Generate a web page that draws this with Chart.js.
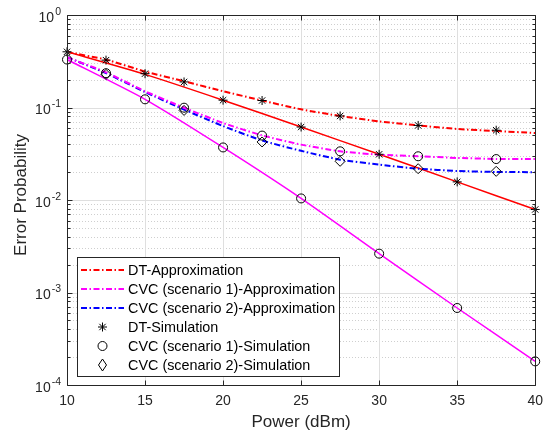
<!DOCTYPE html>
<html>
<head>
<meta charset="utf-8">
<script src="https://cdn.jsdelivr.net/npm/chart.js@4"></script>
<style>
  body{margin:0;background:#fff;}
  #c{display:block;}
</style>
</head>
<body>
<canvas id="c" width="551" height="434"></canvas>
<script>
// power axis (dBm)
const powerAll=[10,12.5,15,17.5,20,22.5,25,27.5,30,32.5,35,37.5,40];
const powerFive=[10,15,20,25,30,35,40];
const powerDiamond=[12.5,17.5,22.5,27.5,32.5,37.5];

// approximation curves (dash-dot)
const dtApprox=[0.398,0.329,0.245,0.192,0.150,0.119,0.0955,0.081,0.0708,0.064,0.0586,0.0557,0.053];
const cvc1Approx=[0.35,0.24,0.15,0.0995,0.068,0.050,0.0397,0.0336,0.0309,0.0297,0.0285,0.0278,0.0277];
const cvc2Approx=[0.35,0.235,0.147,0.095,0.063,0.044,0.034,0.0273,0.0241,0.0218,0.0206,0.0201,0.0200];

// solid curves (no legend entry)
const dtSolid=[0.40,0.228,0.12,0.0615,0.0312,0.0157,0.0079];
const cvc1Solid=[0.33,0.1226,0.037,0.0104,0.00263,0.00068,0.00018];

// simulation markers
const dtSim=[0.40,0.325,0.232,0.189,0.12,0.119,0.0615,0.081,0.0312,0.064,0.0157,0.0568,0.0079];
const cvc1Sim=[0.33,0.235,0.1226,0.0995,0.037,0.0497,0.0104,0.0336,0.00263,0.0297,0.00068,0.0277,0.00018];
const cvc2Sim=[0.228,0.093,0.0424,0.0262,0.0218,0.0204];

const yTickExps=[0,-1,-2,-3,-4];
const xTicks=[10,15,20,25,30,35,40];
const legendLabels=['DT-Approximation','CVC (scenario 1)-Approximation','CVC (scenario 2)-Approximation','DT-Simulation','CVC (scenario 1)-Simulation','CVC (scenario 2)-Simulation'];

const axisColor='#262626';
const font='"Liberation Sans", Arial, Helvetica, sans-serif';
const dashDot=[6,2.5,1.5,2.5];

const pts=(xs,ys)=>xs.map((x,i)=>({x:x,y:ys[i]}));

const lineDs=(data,color,dash,width,order,legend)=>({
    data:data, borderColor:color, backgroundColor:color, borderWidth:width,
    borderDash:dash, pointRadius:0, fill:false, tension:0.2, order:order, legend:legend
});
const markDs=(data,style,radius,legend)=>({
    data:data, showLine:false, borderColor:'#000', backgroundColor:'rgba(0,0,0,0)',
    pointStyle:style, pointRadius:radius, pointBorderWidth:1, pointBorderColor:'#000',
    pointBackgroundColor:'rgba(0,0,0,0)', order:0, clip:false, legend:legend
});

const datasets=[
    lineDs(pts(powerAll,dtApprox),'#ff0000',dashDot,2,1,legendLabels[0]),
    lineDs(pts(powerAll,cvc1Approx),'#ff00ff',dashDot,2,1,legendLabels[1]),
    lineDs(pts(powerAll,cvc2Approx),'#0000ff',dashDot,2,1,legendLabels[2]),
    markDs(pts(powerAll,dtSim),'star',4.5,legendLabels[3]),
    markDs(pts(powerAll,cvc1Sim),'circle',4.5,legendLabels[4]),
    markDs(pts(powerDiamond,cvc2Sim),'rectRot',5,legendLabels[5]),
    lineDs(pts(powerFive,dtSolid),'#ff0000',[],1.5,2,null),
    lineDs(pts(powerFive,cvc1Solid),'#ff00ff',[],1.5,2,null)
];

const drawMarker=(ctx,style,x,y,r)=>{
    ctx.beginPath();
    if(style==='circle'){
        ctx.arc(x,y,r,0,Math.PI*2);
    }else if(style==='rectRot'){
        ctx.moveTo(x,y-r*1.2);ctx.lineTo(x+r*0.8,y);ctx.lineTo(x,y+r*1.2);ctx.lineTo(x-r*0.8,y);ctx.closePath();
    }else{
        for(let k=0;k<4;k++){
            const a=k*Math.PI/4;
            ctx.moveTo(x-Math.cos(a)*r,y-Math.sin(a)*r);
            ctx.lineTo(x+Math.cos(a)*r,y+Math.sin(a)*r);
        }
    }
    ctx.stroke();
};

// grid lines, box, inward ticks, y labels and legend (MATLAB look)
const frame={
    id:'frame',
    beforeDatasetsDraw(chart){
        const ctx=chart.ctx, a=chart.chartArea, xs=chart.scales.x, ys=chart.scales.y;
        ctx.save();
        ctx.lineWidth=1;
        // minor y grid
        ctx.strokeStyle='#cfcfcf';
        ctx.setLineDash([1,2]);
        for(let e=-4;e<0;e++){
            for(let m=2;m<=9;m++){
                const y=Math.round(ys.getPixelForValue(m*Math.pow(10,e)))+0.5;
                ctx.beginPath();ctx.moveTo(a.left,y);ctx.lineTo(a.right,y);ctx.stroke();
            }
        }
        ctx.setLineDash([]);
        ctx.strokeStyle='#dfdfdf';
        yTickExps.forEach(e=>{
            const y=Math.round(ys.getPixelForValue(Math.pow(10,e)))+0.5;
            ctx.beginPath();ctx.moveTo(a.left,y);ctx.lineTo(a.right,y);ctx.stroke();
        });
        xTicks.forEach(v=>{
            const x=Math.round(xs.getPixelForValue(v))+0.5;
            ctx.beginPath();ctx.moveTo(x,a.top);ctx.lineTo(x,a.bottom);ctx.stroke();
        });
        ctx.restore();
    },
    afterDatasetsDraw(chart){
        const ctx=chart.ctx, a=chart.chartArea, xs=chart.scales.x, ys=chart.scales.y;
        ctx.save();
        ctx.strokeStyle=axisColor;
        ctx.lineWidth=1;
        const L=Math.round(a.left)+0.5, R=Math.round(a.right)+0.5, T=Math.round(a.top)+0.5, B=Math.round(a.bottom)+0.5;
        ctx.beginPath();ctx.rect(L,T,R-L,B-T);ctx.stroke();
        ctx.beginPath();
        xTicks.forEach(v=>{
            const x=Math.round(xs.getPixelForValue(v))+0.5;
            ctx.moveTo(x,B);ctx.lineTo(x,B-5);
            ctx.moveTo(x,T);ctx.lineTo(x,T+5);
        });
        yTickExps.forEach(e=>{
            const y=Math.round(ys.getPixelForValue(Math.pow(10,e)))+0.5;
            ctx.moveTo(L,y);ctx.lineTo(L+5,y);
            ctx.moveTo(R,y);ctx.lineTo(R-5,y);
        });
        for(let e=-4;e<0;e++){
            for(let m=2;m<=9;m++){
                const y=Math.round(ys.getPixelForValue(m*Math.pow(10,e)))+0.5;
                ctx.moveTo(L,y);ctx.lineTo(L+3,y);
                ctx.moveTo(R,y);ctx.lineTo(R-3,y);
            }
        }
        ctx.stroke();
        // y labels 10^k
        ctx.fillStyle=axisColor;
        ctx.textBaseline='middle';
        yTickExps.forEach(e=>{
            const y=ys.getPixelForValue(Math.pow(10,e));
            const exp=String(e);
            ctx.font='10.5px '+font;
            const ew=ctx.measureText(exp).width;
            ctx.textAlign='left';
            ctx.fillText(exp,61-ew,y-3);
            ctx.font='14px '+font;
            ctx.textAlign='right';
            ctx.fillText('10',61-ew-1,y+3);
        });
        // y title
        ctx.save();
        ctx.translate(21,195);
        ctx.rotate(-Math.PI/2);
        ctx.textAlign='center';
        ctx.font='17px '+font;
        ctx.fillText('Error Probability',0,0);
        ctx.restore();
        ctx.restore();
    },
    afterDraw(chart){
        const ctx=chart.ctx;
        const bx=77.5, by=257.5, bw=262, bh=119;
        ctx.save();
        ctx.fillStyle='#fff';
        ctx.fillRect(bx,by,bw,bh);
        ctx.strokeStyle=axisColor;
        ctx.lineWidth=1;
        ctx.strokeRect(bx,by,bw,bh);
        ctx.font='14.4px '+font;
        ctx.textBaseline='middle';
        ctx.textAlign='left';
        let row=0;
        chart.data.datasets.forEach(ds=>{
            if(!ds.legend)return;
            const y=270+row*19;
            if(ds.showLine===false){
                ctx.strokeStyle='#000';
                ctx.lineWidth=1;
                ctx.setLineDash([]);
                drawMarker(ctx,ds.pointStyle,102.5,y,ds.pointRadius);
            }else{
                ctx.strokeStyle=ds.borderColor;
                ctx.lineWidth=ds.borderWidth;
                ctx.setLineDash(ds.borderDash);
                ctx.beginPath();ctx.moveTo(81,y);ctx.lineTo(124,y);ctx.stroke();
                ctx.setLineDash([]);
            }
            ctx.fillStyle='#000';
            ctx.fillText(ds.legend,128,y+1);
            row++;
        });
        ctx.restore();
    }
};

const ctx=document.getElementById('c').getContext('2d');
window.currentChart=new Chart(ctx,{
    type:'line',
    data:{datasets:datasets},
    options:{
        responsive:false,
        animation:false,
        layout:{padding:{top:15,right:15,left:0,bottom:0}},
        plugins:{legend:{display:false},tooltip:{enabled:false}},
        scales:{
            x:{
                type:'linear',min:10,max:40,
                grid:{display:false,drawTicks:false},border:{display:false},
                ticks:{stepSize:5,maxRotation:0,padding:8,color:axisColor,font:{family:font,size:14}},
                title:{display:true,text:'Power (dBm)',color:axisColor,font:{family:font,size:17},padding:{top:0,bottom:1}},
                afterFit:(s)=>{s.height=49;}
            },
            y:{
                type:'logarithmic',min:1e-4,max:1,
                grid:{display:false,drawTicks:false},border:{display:false},
                ticks:{display:false},
                title:{display:false},
                afterFit:(s)=>{s.width=67;}
            }
        }
    },
    plugins:[frame]
});
</script>
</body>
</html>
